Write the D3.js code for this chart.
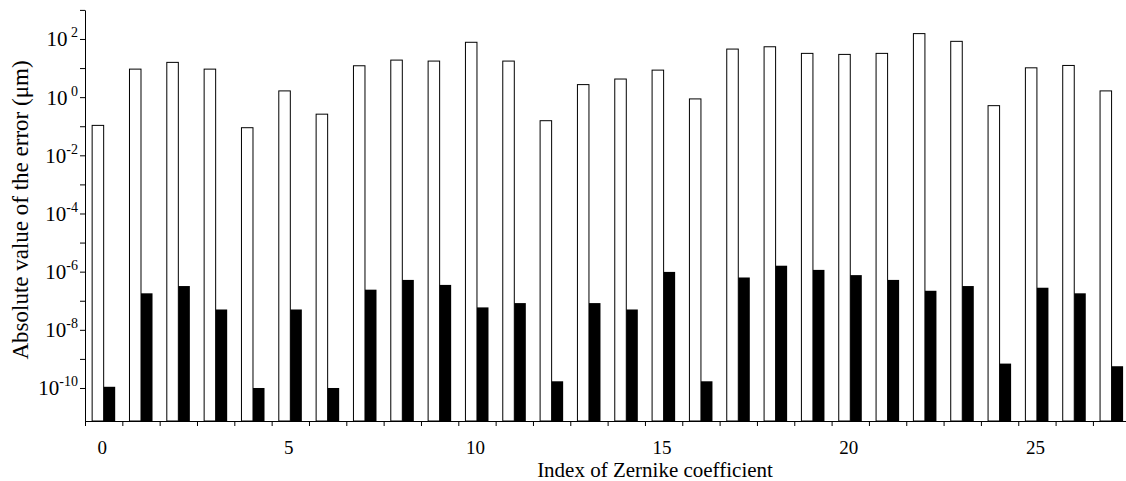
<!DOCTYPE html>
<html><head><meta charset="utf-8">
<script src="https://cdn.jsdelivr.net/npm/d3@7"></script>
<style>
body{margin:0;background:#fff;}
svg{display:block;}
</style></head>
<body><svg id="chart" width="1126" height="481"></svg>
<script>
(function(){
const indices = d3.range(28);
const xTickLabels = [0, 5, 10, 15, 20, 25];
const whiteValues = [0.107, 9.2, 15.7, 9.2, 0.089, 1.64, 0.26, 12, 18.8, 17.4,
  77, 17.4, 0.155, 2.7, 4.2, 8.5, 0.87, 45, 54, 32,
  29.5, 32, 153, 83, 0.51, 10.2, 12.3, 1.64];
const blackValues = [1.1e-10, 1.8e-7, 3.2e-7, 5.0e-8, 1.0e-10, 5.0e-8, 1.0e-10, 2.4e-7, 5.2e-7, 3.5e-7,
  5.9e-8, 8.3e-8, 1.7e-10, 8.3e-8, 5.0e-8, 9.8e-7, 1.7e-10, 6.3e-7, 1.6e-6, 1.15e-6,
  7.6e-7, 5.2e-7, 2.2e-7, 3.2e-7, 6.9e-10, 2.8e-7, 1.8e-7, 5.6e-10];
const yTickExponents = d3.range(3, -11, -1);
const yLabelExponents = [2, 0, -2, -4, -6, -8, -10];
const xTitle = "Index of Zernike coefficient";
const yTitle = "Absolute value of the error (\u03bcm)";

const FONT = "'Liberation Serif', 'Times New Roman', Times, serif";
const svg = d3.select("#chart");
const mLeft = 85, mBottom = 421, mTop = 9.9;
const step = 37.33;

const x = d3.scaleBand().domain(indices).range([mLeft, mLeft + indices.length * step]).padding(0);
const xs = d3.scaleBand().domain(["w", "b"]).range([0, x.bandwidth()]).paddingOuter(0.62).paddingInner(0);
const y = d3.scaleLog().domain([Math.pow(10, -11.135), 1000]).range([mBottom, mTop]);

// bars
const g = svg.append("g");
g.selectAll("rect.w").data(indices).join("rect").attr("class", "w")
  .attr("x", i => x(i) + xs("w"))
  .attr("y", i => y(whiteValues[i]))
  .attr("width", xs.bandwidth())
  .attr("height", i => mBottom - y(whiteValues[i]))
  .attr("fill", "#fff").attr("stroke", "#000").attr("stroke-width", 1);
g.selectAll("rect.b").data(indices).join("rect").attr("class", "b")
  .attr("x", i => x(i) + xs("b"))
  .attr("y", i => y(blackValues[i]))
  .attr("width", xs.bandwidth())
  .attr("height", i => mBottom - y(blackValues[i]))
  .attr("fill", "#000");

// x axis: ticks at band boundaries
const xb = d3.scaleLinear().domain([0, indices.length]).range([mLeft, mLeft + indices.length * step]);
const xAxis = svg.append("g").attr("transform", `translate(0,${mBottom})`)
  .call(d3.axisBottom(xb).tickValues(d3.range(0, indices.length + 1)).tickFormat("").tickSize(5).tickSizeOuter(0));
xAxis.select(".domain").attr("stroke", "#000");
xAxis.selectAll(".tick line").attr("stroke", "#000");

const xLab = svg.append("g").attr("transform", `translate(-1.5,${mBottom})`)
  .call(d3.axisBottom(x).tickValues(xTickLabels).tickSize(0).tickPadding(0));
xLab.attr("font-family", FONT);
xLab.select(".domain").remove();
xLab.selectAll("text").attr("font-size", 19).attr("font-family", FONT).attr("fill", "#000")
  .attr("dy", null).attr("y", 33);

// y axis
const yAxis = svg.append("g").attr("transform", `translate(${mLeft},0)`)
  .call(d3.axisLeft(y).tickValues(yTickExponents.map(e => Math.pow(10, e))).tickFormat("").tickSize(5).tickSizeOuter(0));
yAxis.attr("font-family", FONT);
yAxis.select(".domain").attr("stroke", "#000");
yAxis.selectAll(".tick line").attr("stroke", "#000");

yAxis.selectAll(".tick").filter(d => yLabelExponents.includes(Math.round(Math.log10(d))))
  .append("text")
  .attr("x", -7).attr("y", 7).attr("text-anchor", "end")
  .attr("font-size", 21).attr("font-family", FONT).attr("fill", "#000")
  .each(function(d) {
    const e = Math.round(Math.log10(d));
    const t = d3.select(this);
    t.append("tspan").text("10");
    t.append("tspan").attr("font-size", 14).attr("dy", -9).text(e >= 0 ? "\u00a0" + e : String(e));
  });

// titles
svg.append("text").attr("x", 655).attr("y", 476.5).attr("text-anchor", "middle")
  .attr("font-family", FONT).attr("font-size", 21).attr("fill", "#000").text(xTitle);
svg.append("text").attr("transform", "translate(28,210) rotate(-90)").attr("text-anchor", "middle")
  .attr("font-family", FONT).attr("font-size", 23).attr("fill", "#000").text(yTitle);
})();
</script></body></html>
